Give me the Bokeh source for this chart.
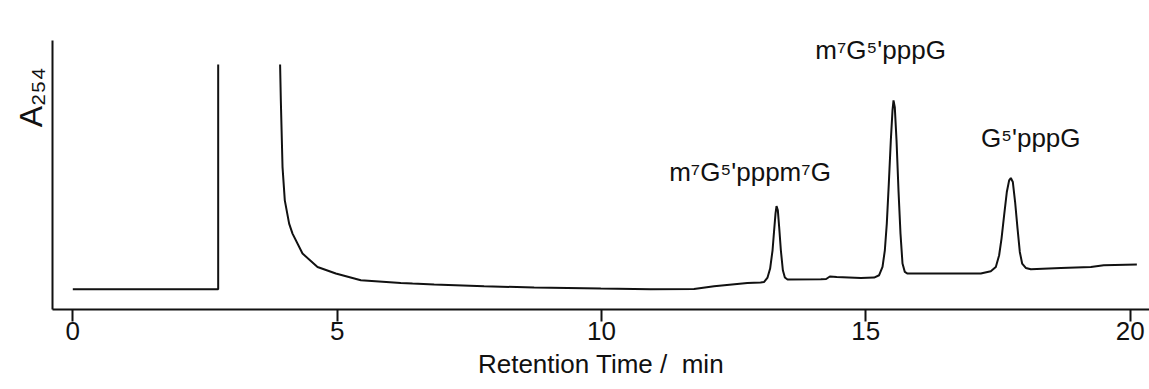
import math
from bokeh.plotting import figure
from bokeh.models import Label, FixedTicker, Range1d, Title
from bokeh.embed import file_html
from bokeh.resources import INLINE

nan = float("nan")

# Retention time (min) and absorbance (arbitrary units)
time_min = [0.0, 2.75, 2.75, nan,
            3.921, 3.935, 3.967, 4.010, 4.092, 4.156, 4.345, 4.629, 4.975, 5.448,
            6.204, 6.426, 6.835, 7.780, 8.726, 9.988, 10.93, 11.75, 12.13, 12.76,
            13.01, 13.077, 13.141, 13.190, 13.236, 13.266, 13.292, 13.311, 13.336,
            13.361, 13.393, 13.431, 13.469, 13.519, 14.149, 14.25, 14.32, 14.45,
            14.906, 15.157, 15.252, 15.316, 15.360, 15.397, 15.435, 15.473, 15.505,
            15.524, 15.548, 15.581, 15.618, 15.656, 15.694, 15.738, 15.789, 16.420,
            17.175, 17.364, 17.459, 17.522, 17.567, 17.616, 17.667, 17.711, 17.743,
            17.781, 17.824, 17.870, 17.913, 17.957, 18.026, 18.121, 18.689, 19.257,
            19.50, 20.127]
a254 = [0.203, 0.203, 2.453, nan,
        2.453, 2.093, 1.426, 1.093, 0.860, 0.760, 0.560, 0.426, 0.360, 0.293,
        0.266, 0.260, 0.250, 0.233, 0.220, 0.210, 0.203, 0.206, 0.233, 0.266,
        0.270, 0.276, 0.320, 0.410, 0.593, 0.793, 0.960, 1.036, 0.993,
        0.826, 0.593, 0.393, 0.320, 0.300, 0.303, 0.305, 0.330, 0.325,
        0.316, 0.320, 0.343, 0.426, 0.593, 0.860, 1.260, 1.693, 1.993,
        2.093, 2.026, 1.693, 1.193, 0.760, 0.460, 0.376, 0.360, 0.360,
        0.360, 0.383, 0.426, 0.543, 0.710, 0.943, 1.176, 1.293, 1.316,
        1.276, 1.076, 0.810, 0.576, 0.460, 0.416, 0.403, 0.416, 0.426,
        0.443, 0.450]

x_ticks = [0, 5, 10, 15, 20]

peak_labels = ["m\u2077G\u2075'pppm\u2077G", "m\u2077G\u2075'pppG", "G\u2075'pppG"]
peak_label_x = [12.81, 15.28, 18.12]
peak_label_y = [1.373, 2.593, 1.713]

FONT = "Liberation Sans"
INK = "#111111"

p = figure(width=1149, height=389, output_backend="svg", toolbar_location=None,
           x_range=Range1d(-0.384, 20.366), y_range=Range1d(0.0, 2.693),
           min_border_left=52, min_border_right=0, min_border_top=40,
           min_border_bottom=80)
p.outline_line_color = None
p.xgrid.visible = False
p.ygrid.visible = False
p.background_fill_color = "white"
p.border_fill_color = "white"

p.line(time_min, a254, line_color=INK, line_width=2)

xa = p.xaxis[0]
xa.ticker = FixedTicker(ticks=x_ticks)
xa.axis_line_width = 2
xa.axis_line_color = INK
xa.major_tick_line_width = 2
xa.major_tick_line_color = INK
xa.major_tick_in = 0
xa.major_tick_out = 12
xa.minor_tick_line_color = None
xa.major_label_text_font = FONT
xa.major_label_text_font_size = "26px"
xa.major_label_text_color = INK
xa.major_label_standoff = 0
xa.axis_label = "Retention Time /\u00a0 min"
xa.axis_label_text_font = FONT
xa.axis_label_text_font_size = "26px"
xa.axis_label_text_font_style = "normal"
xa.axis_label_text_color = INK
xa.axis_label_standoff = 6

ya = p.yaxis[0]
ya.ticker = FixedTicker(ticks=[])
ya.axis_line_width = 2
ya.axis_line_color = INK
ya.major_tick_line_color = None
ya.minor_tick_line_color = None
ya.major_tick_out = 0
ya.major_tick_in = 0
ya.major_label_standoff = 0
ya.major_label_text_font_size = "0px"

ytitle = Title(text="A\u2082\u2085\u2084", align="right", offset=27,
               text_font=FONT, text_font_size="32px", text_font_style="normal",
               text_color=INK, standoff=8)
p.add_layout(ytitle, "left")

for txt, lx, ly in zip(peak_labels, peak_label_x, peak_label_y):
    p.add_layout(Label(x=lx, y=ly, text=txt, text_align="center",
                       text_baseline="alphabetic", text_font=FONT,
                       text_font_size="26px", text_color=INK))

open("out.html", "w").write(file_html(p, INLINE))
